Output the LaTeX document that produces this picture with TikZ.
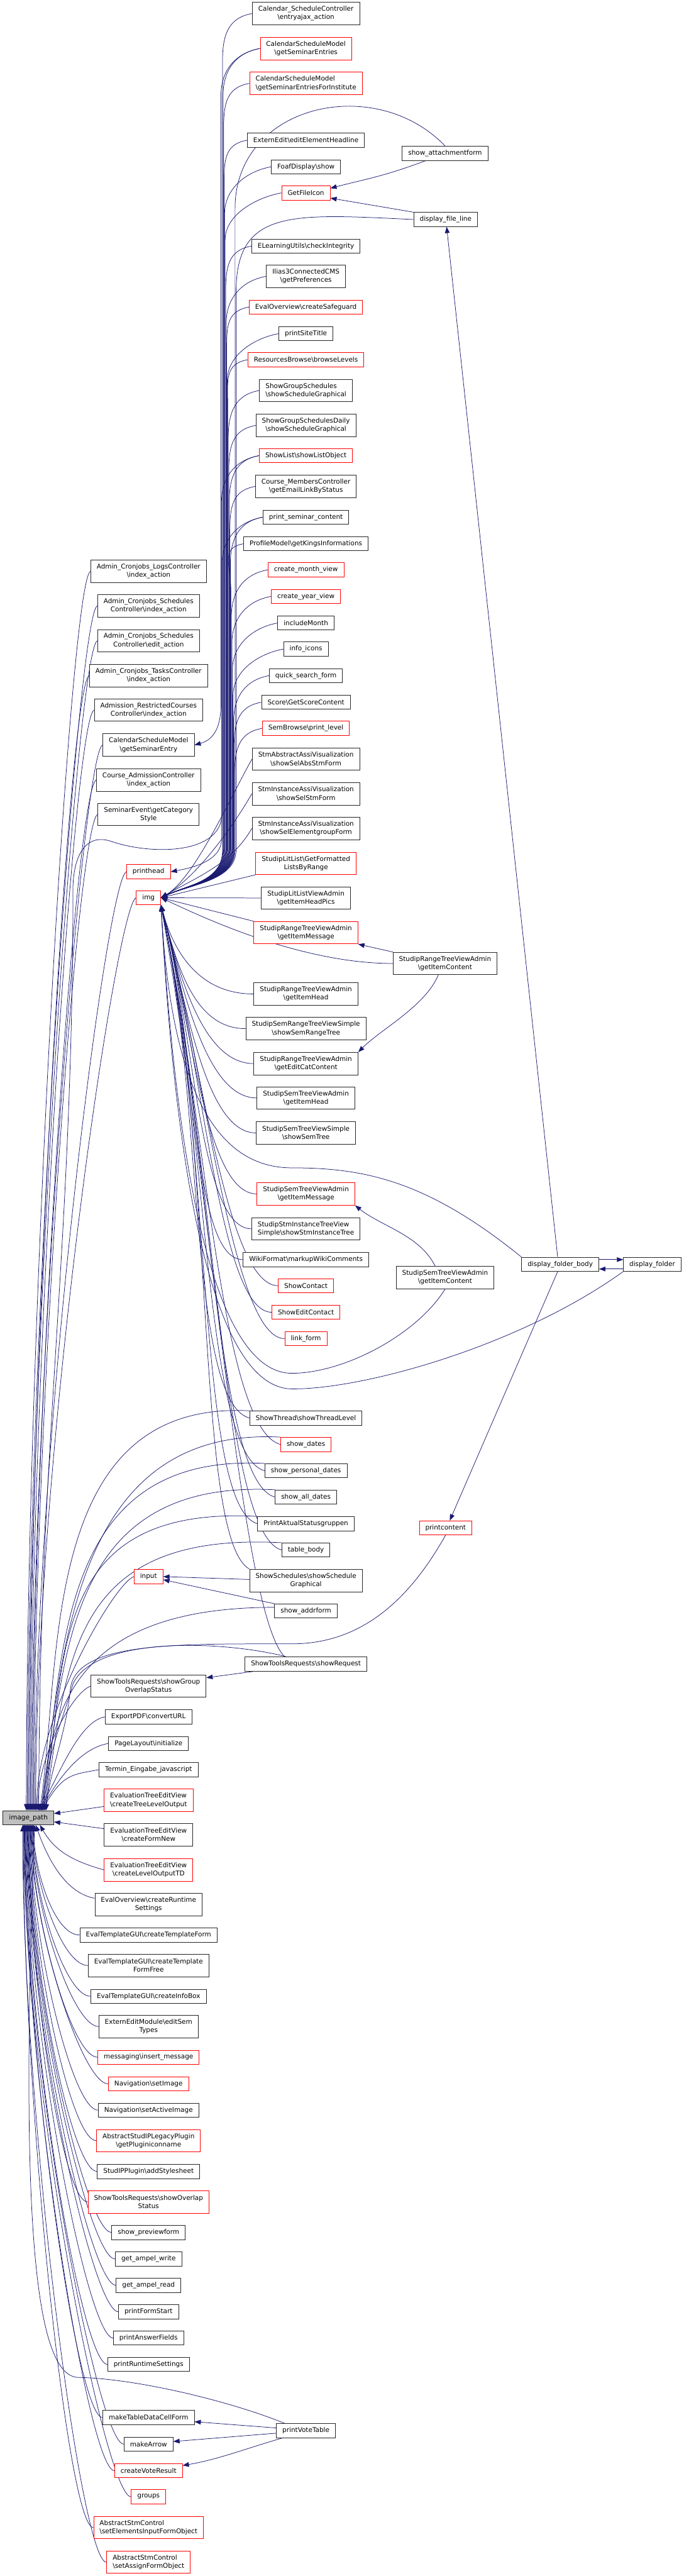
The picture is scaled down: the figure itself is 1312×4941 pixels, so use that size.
\documentclass[tikz,border=0pt]{standalone}
\usepackage{fontspec}
\setmainfont{DejaVu Sans}
\usetikzlibrary{arrows.meta, calc, backgrounds}
\definecolor{callc}{RGB}{25,25,112}
\definecolor{truncc}{RGB}{255,0,0}
\newcommand{\bs}{\textbackslash}

\begin{document}
\begin{tikzpicture}[x=1pt, y=1pt,
    fn/.style={draw=black!85, line width=1pt, fill=white, inner xsep=11.5pt, inner ysep=2pt,
      minimum height=27pt, align=center, font=\fontsize{12.6}{16}\selectfont},
    two/.style={minimum height=43pt},
    trunc/.style={fn, draw=truncc},
    call/.style={draw=callc, line width=0.9pt, -{Triangle[length=12pt, width=9pt]}}]
\useasboundingbox (0,0) rectangle (1312,-4941);

% the function itself
\node[fn, fill=black!25] (ip) at (54.5,-3486.5) {image\_path};

% direct callers
\node[fn,two] (lc) at (285,-1096) {Admin\_Cronjobs\_LogsController\\\bs index\_action};
\node[fn,two] (sci) at (285,-1162) {Admin\_Cronjobs\_Schedules\\Controller\bs index\_action};
\node[fn,two] (sce) at (285,-1229) {Admin\_Cronjobs\_Schedules\\Controller\bs edit\_action};
\node[fn,two] (tc) at (285,-1296) {Admin\_Cronjobs\_TasksController\\\bs index\_action};
\node[fn,two] (arc) at (285,-1362) {Admission\_RestrictedCourses\\Controller\bs index\_action};
\node[fn,two] (gsen) at (285,-1429) {CalendarScheduleModel\\\bs getSeminarEntry};
\node[fn,two] (cac) at (285,-1496) {Course\_AdmissionController\\\bs index\_action};
\node[fn,two] (sec) at (285,-1562) {SeminarEvent\bs getCategory\\Style};
\node[trunc] (phead) at (285,-1672) {printhead};
\node[trunc] (img) at (285,-1722) {img};
\node[trunc] (inp) at (285,-3024) {input};
\node[fn,two] (sgo) at (285,-3234) {ShowToolsRequests\bs showGroup\\OverlapStatus};
\node[fn] (pdf) at (285,-3293) {ExportPDF\bs convertURL};
\node[fn] (pli) at (285,-3344) {PageLayout\bs initialize};
\node[fn] (tej) at (285,-3394.5) {Termin\_Eingabe\_javascript};
\node[trunc,two,align=left] (ctl) at (285,-3453) {EvaluationTreeEditView\\\bs createTreeLevelOutput};
\node[fn,two] (cfn) at (285,-3519.5) {EvaluationTreeEditView\\\bs createFormNew};
\node[trunc,two] (clo) at (285,-3586.5) {EvaluationTreeEditView\\\bs createLevelOutputTD};
\node[fn,two] (crs) at (285,-3653) {EvalOverview\bs createRuntime\\Settings};
\node[fn] (ctf) at (285,-3711.5) {EvalTemplateGUI\bs createTemplateForm};
\node[fn,two] (ctff) at (285,-3770) {EvalTemplateGUI\bs createTemplate\\FormFree};
\node[fn] (cib) at (285,-3829) {EvalTemplateGUI\bs createInfoBox};
\node[fn,two] (est) at (285,-3887) {ExternEditModule\bs editSem\\Types};
\node[trunc] (ins) at (285,-3946) {messaging\bs insert\_message};
\node[trunc] (nsi) at (285,-3997) {Navigation\bs setImage};
\node[fn] (nsa) at (285,-4047.5) {Navigation\bs setActiveImage};
\node[trunc,two] (gpi) at (285,-4106) {AbstractStudIPLegacyPlugin\\\bs getPluginiconname};
\node[fn] (ass) at (285,-4165) {StudIPPlugin\bs addStylesheet};
\node[trunc,two] (sos) at (285,-4223.5) {ShowToolsRequests\bs showOverlap\\Status};
\node[fn] (spf) at (285,-4282) {show\_previewform};
\node[fn] (gaw) at (285,-4333) {get\_ampel\_write};
\node[fn] (gar) at (285,-4383.5) {get\_ampel\_read};
\node[fn] (pfs) at (285,-4434) {printFormStart};
\node[fn] (paf) at (285,-4484.5) {printAnswerFields};
\node[fn] (prs) at (285,-4535) {printRuntimeSettings};
\node[fn] (mtd) at (285,-4637) {makeTableDataCellForm};
\node[fn] (mka) at (285,-4688) {makeArrow};
\node[trunc] (cvr) at (285,-4739) {createVoteResult};
\node[trunc] (grp) at (285,-4789) {groups};
\node[trunc,two,align=left] (sei) at (285,-4848) {AbstractStmControl\\\bs setElementsInputFormObject};
\node[trunc,two,align=left] (sao) at (285,-4914.5) {AbstractStmControl\\\bs setAssignFormObject};

% second column
\node[fn,two] (ent) at (587,-26) {Calendar\_ScheduleController\\\bs entryajax\_action};
\node[trunc,two] (gse) at (587,-93) {CalendarScheduleModel\\\bs getSeminarEntries};
\node[trunc,two,align=left] (gsei) at (587,-160) {CalendarScheduleModel\\\bs getSeminarEntriesForInstitute};
\node[fn] (eeh) at (587,-269) {ExternEdit\bs editElementHeadline};
\node[fn] (foaf) at (587,-320) {FoafDisplay\bs show};
\node[trunc] (gfi) at (587,-370) {GetFileIcon};
\node[fn] (eli) at (587,-472) {ELearningUtils\bs checkIntegrity};
\node[fn,two] (ilias) at (587,-530) {Ilias3ConnectedCMS\\\bs getPreferences};
\node[trunc] (safe) at (587,-589) {EvalOverview\bs createSafeguard};
\node[fn] (pst) at (587,-640) {printSiteTitle};
\node[trunc] (rbl) at (587,-690) {ResourcesBrowse\bs browseLevels};
\node[fn,two,align=left] (sgs) at (587,-749) {ShowGroupSchedules\\\bs showScheduleGraphical};
\node[fn,two] (sgsd) at (587,-816) {ShowGroupSchedulesDaily\\\bs showScheduleGraphical};
\node[trunc] (slo) at (587,-874) {ShowList\bs showListObject};
\node[fn,two] (cmc) at (587,-933) {Course\_MembersController\\\bs getEmailLinkByStatus};
\node[fn] (psc) at (587,-992) {print\_seminar\_content};
\node[fn] (pkm) at (587,-1043) {ProfileModel\bs getKingsInformations};
\node[trunc] (cmv) at (587,-1093) {create\_month\_view};
\node[trunc] (cyv) at (587,-1144) {create\_year\_view};
\node[fn] (incm) at (587,-1195) {includeMonth};
\node[fn] (infi) at (587,-1245) {info\_icons};
\node[fn] (qsf) at (587,-1296) {quick\_search\_form};
\node[fn] (score) at (587,-1347) {Score\bs GetScoreContent};
\node[trunc] (spl) at (587,-1397) {SemBrowse\bs print\_level};
\node[fn,two] (sabs) at (587,-1456) {StmAbstractAssiVisualization\\\bs showSelAbsStmForm};
\node[fn,two] (sstm) at (587,-1522.5) {StmInstanceAssiVisualization\\\bs showSelStmForm};
\node[fn,two] (segf) at (587,-1589) {StmInstanceAssiVisualization\\\bs showSelElementgroupForm};
\node[trunc,two] (lflr) at (587,-1656) {StudipLitList\bs GetFormatted\\ListsByRange};
\node[fn,two] (lhp) at (587,-1722.5) {StudipLitListViewAdmin\\\bs getItemHeadPics};
\node[trunc,two] (rim) at (587,-1789) {StudipRangeTreeViewAdmin\\\bs getItemMessage};
\node[fn,two] (rih) at (587,-1906.5) {StudipRangeTreeViewAdmin\\\bs getItemHead};
\node[fn,two] (ssrt) at (587,-1973) {StudipSemRangeTreeViewSimple\\\bs showSemRangeTree};
\node[fn,two] (recc) at (587,-2040) {StudipRangeTreeViewAdmin\\\bs getEditCatContent};
\node[fn,two] (sih) at (587,-2106) {StudipSemTreeViewAdmin\\\bs getItemHead};
\node[fn,two] (sst) at (587,-2173) {StudipSemTreeViewSimple\\\bs showSemTree};
\node[trunc,two] (sim) at (587,-2290) {StudipSemTreeViewAdmin\\\bs getItemMessage};
\node[fn,two,align=left] (ssit) at (587,-2357) {StudipStmInstanceTreeView\\Simple\bs showStmInstanceTree};
\node[fn] (wiki) at (587,-2416) {WikiFormat\bs markupWikiComments};
\node[trunc] (scon) at (587,-2466) {ShowContact};
\node[trunc] (secon) at (587,-2517) {ShowEditContact};
\node[trunc] (lnk) at (587,-2567.5) {link\_form};
\node[fn] (stl) at (587,-2720) {ShowThread\bs showThreadLevel};
\node[trunc] (sdat) at (587,-2770.5) {show\_dates};
\node[fn] (spd) at (587,-2821) {show\_personal\_dates};
\node[fn] (sad) at (587,-2871.5) {show\_all\_dates};
\node[fn] (pas) at (587,-2922.5) {PrintAktualStatusgruppen};
\node[fn] (tbody) at (587,-2973) {table\_body};
\node[fn,two] (ssg) at (587,-3031.5) {ShowSchedules\bs showSchedule\\Graphical};
\node[fn] (saf) at (587,-3090) {show\_addrform};
\node[fn] (sreq) at (587,-3191.5) {ShowToolsRequests\bs showRequest};
\node[fn] (pvt) at (587,-4662) {printVoteTable};

% third and fourth columns
\node[fn] (saform) at (854,-294) {show\_attachmentform};
\node[fn] (dfl) at (855,-421) {display\_file\_line};
\node[fn,two] (ric) at (854,-1848) {StudipRangeTreeViewAdmin\\\bs getItemContent};
\node[fn,two] (sic) at (854,-2450.5) {StudipSemTreeViewAdmin\\\bs getItemContent};
\node[trunc] (pcont) at (855,-2930.5) {printcontent};
\node[fn] (dfb) at (1075,-2425) {display\_folder\_body};
\node[fn] (dfo) at (1251.5,-2425) {display\_folder};

\begin{scope}[on background layer]
% callers of img, upper part (through the bundle)
\foreach \nd/\bx in {ent/427, gse/428, gsei/429, eeh/430, foaf/431, gfi/432, eli/433, ilias/434,
    safe/435, pst/436, rbl/437, sgs/438, sgsd/439, slo/440, cmc/441, psc/442, pkm/443, cmv/444,
    cyv/445, incm/446, infi/447, qsf/448, score/449, spl/450}
  \draw[call] let \p1=(\nd.west) in (\p1) .. controls (\x1-45,\y1-8) and (\bx,\y1-40)
    .. (\bx,\y1-90) -- (\bx,-1630) .. controls (\bx,-1690) and ($(img.east)+(55,26)$) .. (img.east);
\foreach \nd in {sabs, sstm, segf}
  \draw[call] (\nd.west) .. controls +(-40,-70) and ($(img.east)+(65,38)$) .. (img.east);
\draw[call] (lflr.south west) -- (img.east);
\draw[call] (lhp.west) -- (img.east);
\draw[call] (rim.north west) -- (img.east);
\draw[call] (ric.west) .. controls +(-180,0) and ($(img.east)+(75,-35)$) .. (img.east);
\draw[call] (saform.north) .. controls (720,-140) and (451,-200) .. (451,-400) -- (451,-1630)
  .. controls (451,-1690) and ($(img.east)+(55,26)$) .. (img.east);
\draw[call] (dfl.west) .. controls (560,-410) and (453,-400) .. (453,-560) -- (453,-1630)
  .. controls (453,-1690) and ($(img.east)+(55,26)$) .. (img.east);
% callers of img, lower part
\foreach \nd/\di in {rih/100, ssrt/115, recc/130, sih/155, sst/180, sim/225, ssit/250, wiki/275,
    scon/295, secon/315, lnk/335}
  \draw[call] (\nd.west) .. controls +(-100,0) and ($(img.south east)+(0.26*\di,-0.97*\di)$)
    .. (img.south east);
\foreach \nd/\di in {stl/390, sdat/410, spd/430, sad/450, pas/470, tbody/490}
  \draw[call] (\nd.west) .. controls +(-116,31) and ($(img.south east)+(0.21*\di,-0.98*\di)$)
    .. (img.south east);
\draw[call] (ssg.north west) .. controls +(-104,60) and ($(img.south east)+(106,-500)$)
  .. (img.south east);
\draw[call] ([xshift=-41pt]sreq.north) .. controls +(-85,85) and ($(img.south east)+(99,-561)$)
  .. (img.south east);
\draw[call] (dfb.north west) .. controls (820,-2265) and (700,-2240) .. (560,-2240)
  .. controls (420,-2240) and (330,-2100) .. (img.south east);
\draw[call] (dfo.south west) .. controls (1000,-2580) and (700,-2665) .. (560,-2664)
  .. controls (440,-2663) and (345,-2400) .. (img.south east);
\draw[call] (sic.south) .. controls (800,-2560) and (660,-2634) .. (560,-2634)
  .. controls (450,-2634) and (350,-2420) .. (img.south east);

% calls between the callers
\draw[call] let \p1=(gse.west) in (\p1) .. controls (\x1-45,\y1-8) and (424,\y1-40)
  .. (424,\y1-90) -- (424,-1350) .. controls (424,-1390) and ($(gsen.east)+(40,11)$) .. (gsen.east);
\draw[call] let \p1=(slo.west) in (\p1) .. controls (\x1-45,\y1-8) and (425,\y1-40)
  .. (425,\y1-90) -- (425,-1610) .. controls (425,-1650) and ($(phead.east)+(45,8)$) .. (phead.east);
\draw[call] ([xshift=46pt]saform.south west) .. controls +(-80,-30) and ($(gfi.east)+(70,27)$)
  .. ([yshift=9pt]gfi.east);
\draw[call] (dfl.north west) -- ([yshift=-10pt]gfi.east);
\draw[call] ([xshift=-5pt]dfb.north) -- ([xshift=2pt]dfl.south);
\draw[call] ([yshift=9pt]dfb.east) -- ([yshift=9pt]dfo.west);
\draw[call] ([yshift=-9pt]dfo.west) -- ([yshift=-9pt]dfb.east);
\draw[call] ([xshift=-5pt]dfb.south) -- ([xshift=8pt]pcont.north);
\draw[call] (ric.north west) -- (rim.south east);
\draw[call] ([xshift=-13pt]ric.south) .. controls +(-25,-60) and ($(recc.north east)+(45,45)$)
  .. (recc.north east);
\draw[call] ([xshift=-19pt]sic.north) .. controls +(-30,60) and ($(sim.south east)+(50,-40)$)
  .. (sim.south east);
\draw[call] ([yshift=2pt]ssg.west) -- (inp.east);
\draw[call] (saf.north west) -- ([yshift=-6pt]inp.east);
\draw[call] ([xshift=20pt]sreq.south west) -- ([yshift=16pt]sgo.east);
\draw[call] ([yshift=5pt]pvt.west) -- ([yshift=-8pt]mtd.east);
\draw[call] ([yshift=-5pt]pvt.west) -- ([yshift=5pt]mka.east);
\draw[call] ([xshift=13pt]pvt.south west) .. controls +(-70,-20) and ($(cvr.east)+(70,22)$)
  .. ([yshift=10pt]cvr.east);

% callers of image_path from above
\foreach \nd/\dx/\di in {lc/-4/930, sci/-2/905, sce/0/880, tc/2/850, arc/4/825, gsen/6/800,
    cac/8/770, sec/10/745, phead/12/700, img/14/680, inp/16/180, sgo/18/100}
  \draw[call] (\nd.west) .. controls +(-38,-14) and ($(ip.north)+(\dx,\di)$) .. ($(ip.north)+(\dx,0)$);
\foreach \nd/\dx in {pdf/20, pli/23, tej/26}
  \draw[call] (\nd.west) .. controls +(-50,-9) and ($(ip.north)+(\dx+40,70)$) .. ($(ip.north)+(\dx,0)$);
\draw[call] let \p1=(psc.west) in (\p1) .. controls (\x1-45,\y1-8) and (426,\y1-40)
  .. (426,\y1-90) -- (426,-1560) .. controls (426,-1640) and (290,-1640) .. (214,-1614)
  .. controls (165,-1597) and (142,-1640) .. (140,-1700)
  .. controls (140,-2400) and ($(ip.north)+(20,700)$) .. ($(ip.north)+(20,0)$);
\foreach \nd/\dx in {stl/22, sdat/24, spd/26, sad/28, pas/30, tbody/32}
  \draw[call] (\nd.north west) .. controls +(-400,21) and ($(ip.north)+(\dx+42,297)$)
    .. ($(ip.north)+(\dx,0)$);
\draw[call] ([yshift=-7pt]saf.north west) .. controls +(-380,0) and ($(ip.north)+(43,199)$)
  .. ($(ip.north)+(26,0)$);
\draw[call] ([xshift=-38pt]sreq.north) .. controls (420,-3145) and (180,-3140) .. (140,-3230)
  .. controls (120,-3300) and (85,-3380) .. ($(ip.north)+(30,0)$);
\draw[call] (pcont.south) .. controls (790,-3060) and (700,-3153) .. (560,-3153)
  .. controls (330,-3153) and (145,-3150) .. (135,-3240)
  .. controls (128,-3320) and (95,-3400) .. ($(ip.north)+(34,0)$);

% callers of image_path from beside and below
\draw[call] ([yshift=-12pt]ctl.west) -- ([yshift=8pt]ip.east);
\draw[call] ([yshift=12pt]cfn.west) -- ([yshift=-8pt]ip.east);
\draw[call] (clo.west) .. controls +(-70,19) and ($(ip.south)+(47,-43)$) .. ($(ip.south)+(22,0)$);
\draw[call] ([yshift=12pt]crs.west) .. controls +(-60,11) and ($(ip.south)+(34,-56)$)
  .. ($(ip.south)+(14,0)$);
\foreach \nd/\dx/\di in {ctf/10/82, ctff/9/105, cib/8/128, est/7/151, ins/6/174, nsi/5/194,
    nsa/4/213, gpi/3/236, ass/2/259, sos/1/282, spf/0/305, gaw/-1/325, gar/-2/344, pfs/-3/364,
    paf/-4/384, prs/-5/404, mtd/-6/443, mka/-7/463, cvr/-8/483, grp/-9/503, sei/-10/526, sao/-11/551}
  \draw[call] (\nd.west) .. controls +(-50,0) and ($(ip.south)+(\dx,-\di)$) .. ($(ip.south)+(\dx,0)$);
\draw[call] ([xshift=16pt]pvt.north west) .. controls (440,-4605) and (260,-4562) .. (150,-4560)
  .. controls (60,-4558) and (40,-4200) .. ($(ip.south)+(12,0)$);
\end{scope}
\end{tikzpicture}
\end{document}
